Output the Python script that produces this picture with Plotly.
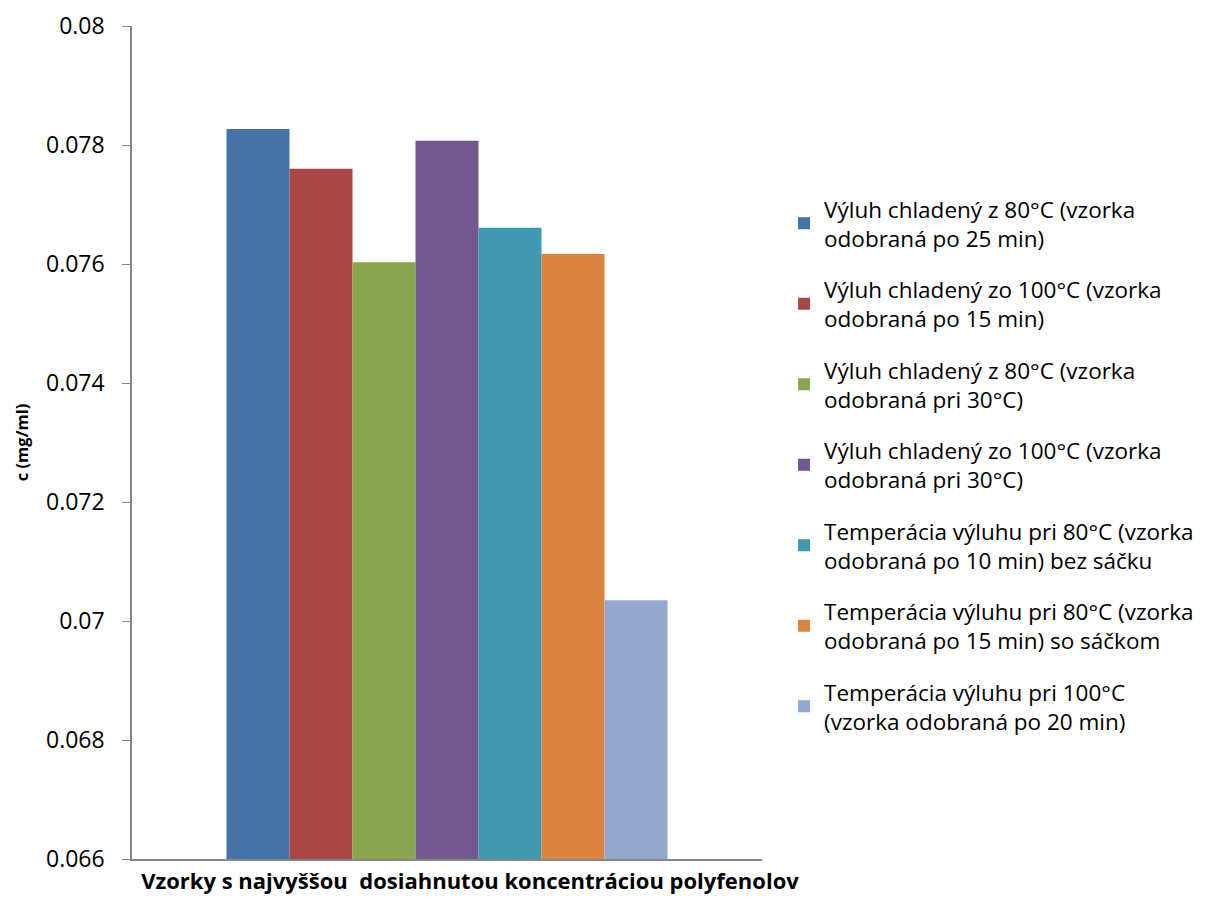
import plotly.graph_objects as go

category = ["Vzorky s najvyššou  dosiahnutou koncentráciou polyfenolov"]

series_names = [
    "Výluh chladený z 80°C (vzorka<br>odobraná po 25 min)",
    "Výluh chladený zo 100°C (vzorka<br>odobraná po 15 min)",
    "Výluh chladený z 80°C (vzorka<br>odobraná pri 30°C)",
    "Výluh chladený zo 100°C (vzorka<br>odobraná pri 30°C)",
    "Temperácia výluhu pri 80°C (vzorka<br>odobraná po 10 min) bez sáčku",
    "Temperácia výluhu pri 80°C (vzorka<br>odobraná po 15 min) so sáčkom",
    "Temperácia výluhu pri 100°C<br>(vzorka odobraná po 20 min)",
]
series_values = [0.07827, 0.07760, 0.07603, 0.07807, 0.07661, 0.07617, 0.07035]
series_colors = ["#4572A7", "#AA4643", "#89A54E", "#71588F", "#4198AF", "#DB843D", "#93A9CF"]

y_ticks = [0.066, 0.068, 0.07, 0.072, 0.074, 0.076, 0.078, 0.08]

FONT = "Open Sans"

fig = go.Figure()
for i, (name, val, col) in enumerate(zip(series_names, series_values, series_colors)):
    fig.add_trace(go.Bar(
        x=category, y=[val], name=name, marker_color=col,
        marker_line_width=0, legendgroup=f"g{i}",
    ))

fig.update_layout(
    width=1209, height=902,
    margin=dict(l=132, r=447, t=26, b=43, autoexpand=False),
    paper_bgcolor="white", plot_bgcolor="white",
    barmode="group", bargap=0.30, bargroupgap=0,
    font=dict(family=FONT, size=19, color="black"),
    showlegend=True,
    legend=dict(
        x=1.035, xanchor="left", y=0.806, yanchor="top",
        font=dict(family=FONT, size=22.5, color="black"),
        tracegroupgap=19, itemwidth=30,
        bgcolor="rgba(0,0,0,0)",
    ),
)

fig.update_yaxes(
    range=[0.066, 0.08], tickvals=y_ticks,
    ticktext=[f"{v:g}" for v in y_ticks],
    showgrid=False, zeroline=False, automargin=False,
    showline=True, linecolor="#868686", linewidth=1.5,
    ticks="outside", ticklen=8, tickcolor="#868686",
    ticklabelstandoff=13,
    tickfont=dict(family=FONT, size=23),
    title=dict(text="<b>c (mg/ml)</b>", font=dict(family=FONT, size=16.5), standoff=13),
)
fig.update_xaxes(
    showgrid=False, zeroline=False, automargin=False,
    showline=True, linecolor="#868686", linewidth=1.5,
    ticks="", tickfont=dict(family=FONT, size=22),
    tickprefix="<b>", ticksuffix="</b>",
    ticklabelshift=23, ticklabelstandoff=2,
)

fig.write_html("out.html")
